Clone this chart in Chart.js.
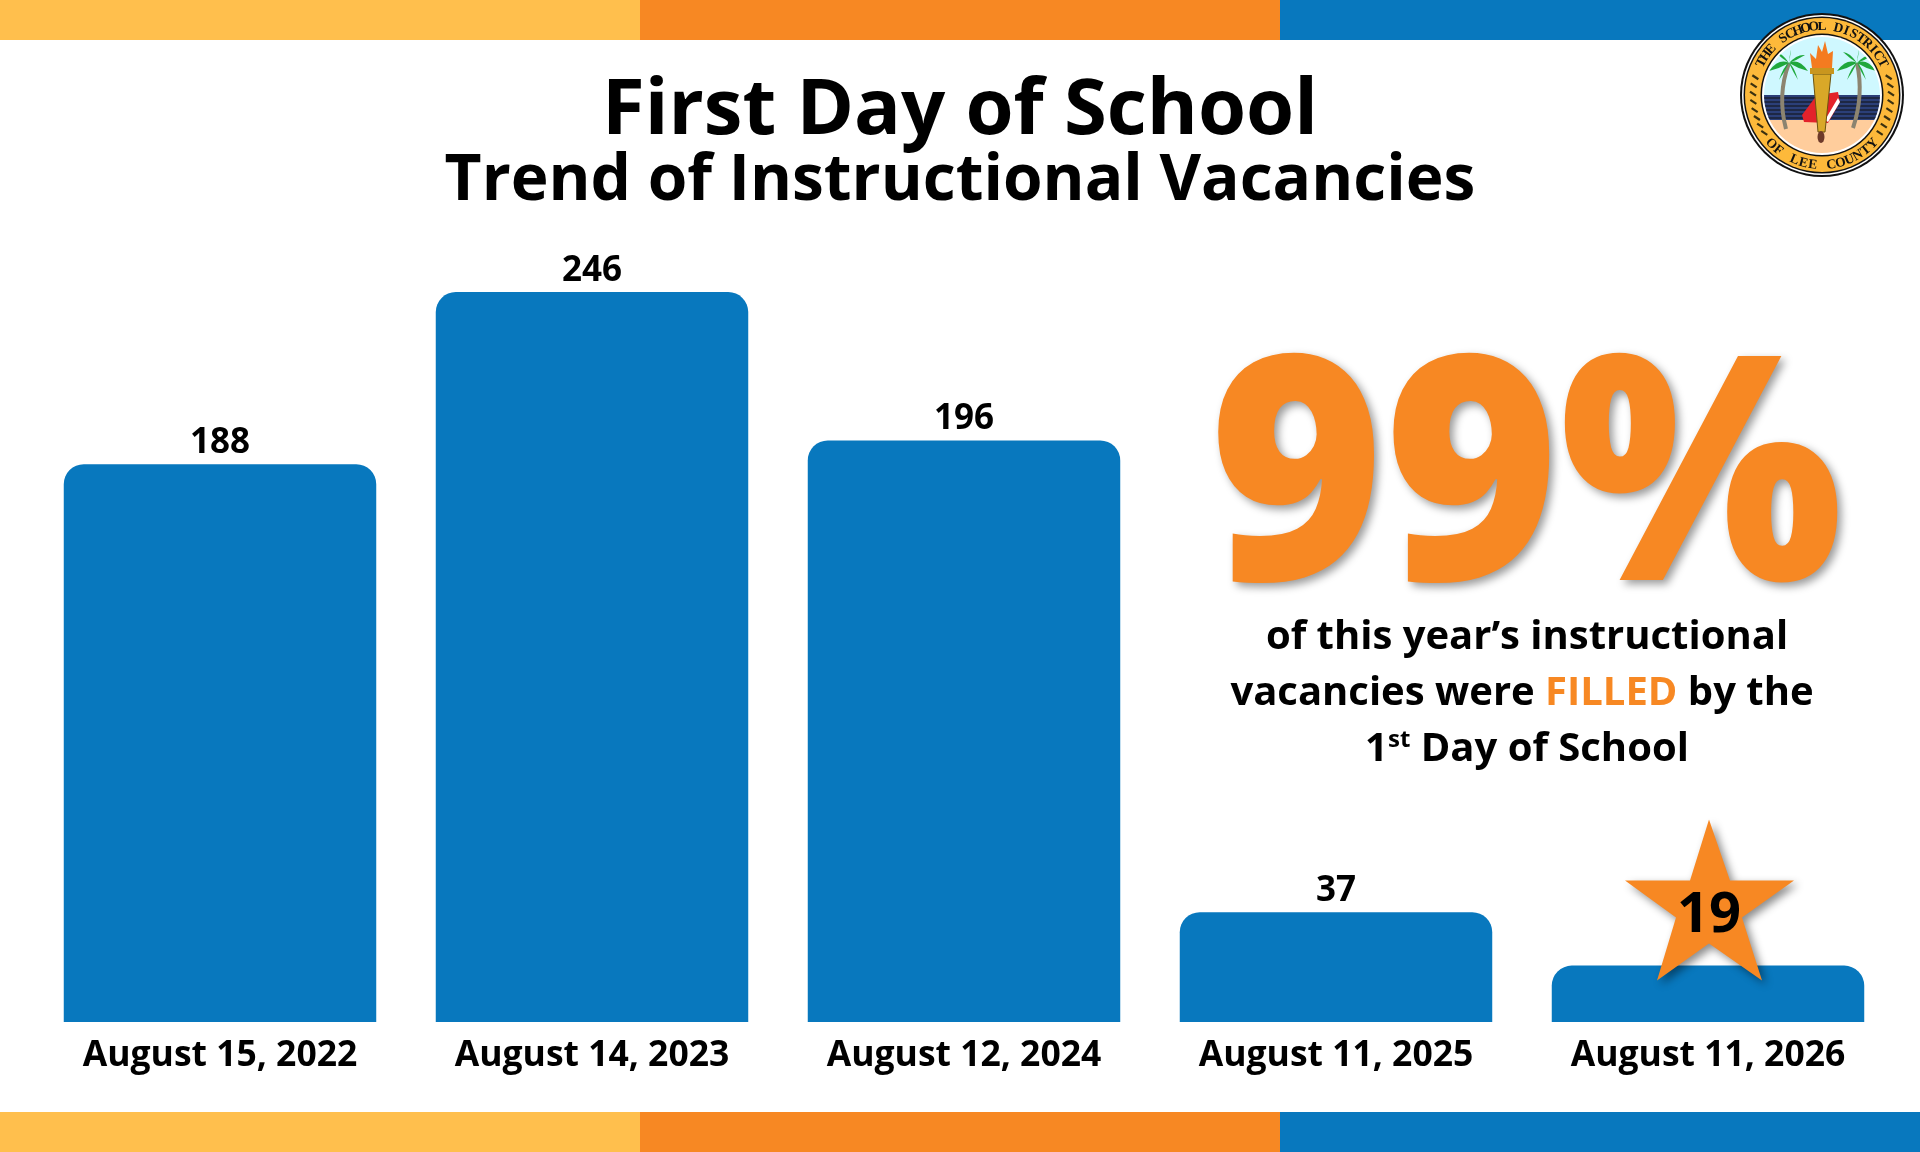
<!DOCTYPE html>
<html>
<head>
<meta charset="utf-8">
<title>First Day of School</title>
<script src="https://cdn.jsdelivr.net/npm/chart.js@4"></script>
<style>
  html, body { margin: 0; padding: 0; background: #fff; }
  #wrap { width: 1920px; height: 1152px; position: relative; }
</style>
</head>
<body>
<div id="wrap"><canvas id="myChart" width="1920" height="1152"></canvas></div>
<script>
const dates = ['August 15, 2022', 'August 14, 2023', 'August 12, 2024', 'August 11, 2025', 'August 11, 2026'];
const vacancies = [188, 246, 196, 37, 19];
const titleText = 'First Day of School';
const subtitleText = 'Trend of Instructional Vacancies';
const bigNumber = '99%';
const calloutLines = [
  [['of this year\u2019s instructional', 'black']],
  [['vacancies were ', 'black'], ['FILLED', 'orange'], [' by the', 'black']],
  [['1', 'black'], ['st', 'sup'], [' Day of School', 'black']]
];

const BLUE = '#0878BE';
const ORANGE = '#F78823';
const YELLOW = '#FFBF4D';
const FONT = '"Open Sans", sans-serif';

function arcText(ctx, text, radius, step, outward) {
  // one letter at a time, top run reads clockwise, bottom run counter-clockwise
  const n = text.length;
  for (let i = 0; i < n; i++) {
    const a = (i - (n - 1) / 2) * step * (outward ? 1 : -1);
    ctx.save();
    ctx.rotate(a);
    ctx.translate(0, outward ? -radius : radius);
    ctx.fillText(text[i], 0, 0);
    ctx.restore();
  }
}

function frond(ctx, x, y, ex, ey, bend) {
  ctx.beginPath();
  ctx.moveTo(x, y);
  ctx.quadraticCurveTo((x + ex) / 2, (y + ey) / 2 - bend, ex, ey);
  ctx.quadraticCurveTo((x + ex) / 2, (y + ey) / 2 + bend * 0.2, x, y);
  ctx.fill();
}

function drawSeal(ctx, cx, cy) {
  ctx.save();
  ctx.translate(cx, cy);

  ctx.fillStyle = '#111';
  ctx.beginPath(); ctx.arc(0, 0, 82, 0, Math.PI * 2); ctx.fill();
  ctx.fillStyle = '#fff';
  ctx.beginPath(); ctx.arc(0, 0, 80, 0, Math.PI * 2); ctx.fill();
  ctx.fillStyle = '#111';
  ctx.beginPath(); ctx.arc(0, 0, 78.5, 0, Math.PI * 2); ctx.fill();
  ctx.fillStyle = '#FDB93A';
  ctx.beginPath(); ctx.arc(0, 0, 77, 0, Math.PI * 2); ctx.fill();
  ctx.fillStyle = '#111';
  ctx.beginPath(); ctx.arc(0, 0, 61.5, 0, Math.PI * 2); ctx.fill();
  ctx.fillStyle = '#fff';
  ctx.beginPath(); ctx.arc(0, 0, 60, 0, Math.PI * 2); ctx.fill();

  // lettering round the band
  ctx.fillStyle = '#111';
  ctx.font = 'bold 13.5px "Liberation Serif", serif';
  ctx.textAlign = 'center';
  ctx.textBaseline = 'alphabetic';
  arcText(ctx, 'THE SCHOOL DISTRICT', 65, 0.12, true);
  arcText(ctx, 'OF LEE COUNTY', 74, 0.134, false);

  // vines on the sides
  ctx.strokeStyle = '#3a3010';
  ctx.lineWidth = 2.2;
  [-1, 1].forEach(side => {
    for (let a = -0.26; a < 0.6; a += 0.12) {
      const x = side * 69 * Math.cos(a), y = 69 * Math.sin(a);
      ctx.beginPath();
      ctx.moveTo(x - 3, y - 2);
      ctx.lineTo(x + 3, y + 2);
      ctx.stroke();
    }
  });

  // picture inside the inner ring
  ctx.save();
  ctx.beginPath(); ctx.arc(0, 0, 58, 0, Math.PI * 2); ctx.clip();
  ctx.fillStyle = '#CFF8FF'; ctx.fillRect(-60, -60, 120, 60);
  ctx.fillStyle = '#2B3F78'; ctx.fillRect(-60, 0, 120, 25);
  ctx.strokeStyle = '#111'; ctx.lineWidth = 1;
  for (let y = 3; y < 25; y += 4) {
    ctx.beginPath(); ctx.moveTo(-60, y); ctx.lineTo(60, y); ctx.stroke();
  }
  ctx.fillStyle = '#FFCD9C'; ctx.fillRect(-60, 25, 120, 35);

  // palm trunks
  ctx.strokeStyle = '#8C8470'; ctx.lineWidth = 4;
  ctx.beginPath(); ctx.moveTo(-36, 34); ctx.quadraticCurveTo(-45, 0, -33, -32); ctx.stroke();
  ctx.beginPath(); ctx.moveTo(31, 33); ctx.quadraticCurveTo(42, 0, 35, -32); ctx.stroke();
  ctx.fillStyle = '#1FA83C';
  [[-33, -32], [35, -32]].forEach(p => {
    frond(ctx, p[0], p[1], p[0] - 20, p[1] + 8, 9);
    frond(ctx, p[0], p[1], p[0] - 14, p[1] - 11, 5);
    frond(ctx, p[0], p[1], p[0] + 2, p[1] - 13, 4);
    frond(ctx, p[0], p[1], p[0] + 16, p[1] - 8, 5);
    frond(ctx, p[0], p[1], p[0] + 19, p[1] + 8, 9);
    frond(ctx, p[0], p[1], p[0] + 9, p[1] + 17, 6);
    frond(ctx, p[0], p[1], p[0] - 10, p[1] + 17, 6);
  });

  // book
  ctx.fillStyle = '#E3222B';
  ctx.beginPath();
  ctx.moveTo(-20, 20); ctx.lineTo(-5, 0); ctx.lineTo(16, -3); ctx.lineTo(18, 7);
  ctx.lineTo(6, 28); ctx.lineTo(-18, 27); ctx.closePath(); ctx.fill();
  ctx.fillStyle = '#fff';
  ctx.beginPath();
  ctx.moveTo(16, 3); ctx.lineTo(18, 7); ctx.lineTo(6, 27); ctx.lineTo(3, 25); ctx.closePath(); ctx.fill();

  // torch
  ctx.fillStyle = '#D9A828';
  ctx.beginPath();
  ctx.moveTo(-9, -21); ctx.lineTo(9, -21); ctx.lineTo(3, 37); ctx.lineTo(-4, 37); ctx.closePath(); ctx.fill();
  ctx.strokeStyle = '#6B5310'; ctx.lineWidth = 1; ctx.stroke();
  ctx.fillStyle = '#C9961E'; ctx.fillRect(-12, -27, 24, 6);
  ctx.fillStyle = '#6E3A2A';
  ctx.beginPath(); ctx.ellipse(-1, 42, 3.5, 6, 0, 0, Math.PI * 2); ctx.fill();
  ctx.fillStyle = '#F47B20';
  ctx.beginPath();
  ctx.moveTo(-10, -27); ctx.lineTo(-12, -42); ctx.lineTo(-6, -36); ctx.lineTo(-4, -50);
  ctx.lineTo(0, -43); ctx.lineTo(3, -54); ctx.lineTo(6, -41); ctx.lineTo(11, -44); ctx.lineTo(10, -27);
  ctx.closePath(); ctx.fill();
  ctx.restore();

  ctx.restore();
}

function drawStar(ctx, cx, topY) {
  // outline, centred on the category
  const pts = [[0, 0], [21, 61], [85, 61], [33, 98], [53, 161], [0, 124], [-52, 161], [-33, 98], [-84, 61], [-19, 61]];
  ctx.save();
  ctx.shadowColor = 'rgba(0,0,0,0.45)';
  ctx.shadowBlur = 9;
  ctx.shadowOffsetX = 4;
  ctx.shadowOffsetY = 4;
  ctx.fillStyle = ORANGE;
  ctx.beginPath();
  pts.forEach((p, i) => i ? ctx.lineTo(cx + p[0], topY + p[1]) : ctx.moveTo(cx + p[0], topY + p[1]));
  ctx.closePath();
  ctx.fill();
  ctx.restore();
}

const slidePlugin = {
  id: 'slide',
  beforeDraw(chart) {
    const ctx = chart.ctx;
    const w = chart.width / 3;
    [YELLOW, ORANGE, BLUE].forEach((c, i) => {
      ctx.fillStyle = c;
      ctx.fillRect(w * i, 0, w, 40);
      ctx.fillRect(w * i, 1112, w, 40);
    });
    ctx.save();
    ctx.fillStyle = '#000';
    ctx.textAlign = 'center';
    ctx.textBaseline = 'alphabetic';
    ctx.font = 'bold 77.8px ' + FONT;
    ctx.fillText(titleText, 960, 134);
    ctx.font = 'bold 64px ' + FONT;
    ctx.fillText(subtitleText, 960, 200);
    ctx.restore();
  },
  afterDatasetsDraw(chart) {
    const ctx = chart.ctx;
    const bars = chart.getDatasetMeta(0).data;

    // value labels above the bars, the last one sits in the star
    ctx.save();
    ctx.textAlign = 'center';
    ctx.textBaseline = 'alphabetic';
    ctx.fillStyle = '#000';
    ctx.font = 'bold 35px ' + FONT;
    bars.forEach((bar, i) => {
      if (i < bars.length - 1) ctx.fillText(vacancies[i], bar.x, bar.y - 11);
    });
    const last = bars[bars.length - 1];
    drawStar(ctx, last.x + 1, last.y - 146);
    ctx.fillStyle = '#000';
    ctx.font = 'bold 56px ' + FONT;
    ctx.fillText(vacancies[vacancies.length - 1], last.x + 1, 932);
    ctx.restore();

    // big 99%, slightly stretched upward like the reference
    ctx.save();
    ctx.translate(1526, 580);
    ctx.scale(1, 1.05);
    ctx.shadowColor = 'rgba(0,0,0,0.4)';
    ctx.shadowBlur = 9;
    ctx.shadowOffsetX = 4;
    ctx.shadowOffsetY = 4;
    ctx.fillStyle = ORANGE;
    ctx.textAlign = 'center';
    ctx.font = '800 299px ' + FONT;
    ctx.fillText(bigNumber, 0, 0);
    ctx.restore();

    // callout text, built from coloured runs
    ctx.save();
    ctx.textAlign = 'left';
    const base = 'bold 40px ' + FONT;
    const sup = 'bold 24px ' + FONT;
    calloutLines.forEach((runs, i) => {
      const y = 649 + i * 56;
      let total = 0;
      runs.forEach(r => { ctx.font = r[1] === 'sup' ? sup : base; total += ctx.measureText(r[0]).width; });
      let x = (i === 1 ? 1522 : 1527) - total / 2;
      runs.forEach(r => {
        ctx.font = r[1] === 'sup' ? sup : base;
        ctx.fillStyle = r[1] === 'orange' ? ORANGE : '#000';
        ctx.fillText(r[0], x, r[1] === 'sup' ? y - 14 : y);
        x += ctx.measureText(r[0]).width;
      });
    });
    ctx.restore();

    drawSeal(ctx, 1822, 95);
  }
};

new Chart(document.getElementById('myChart'), {
  type: 'bar',
  plugins: [slidePlugin],
  data: {
    labels: dates,
    datasets: [{
      data: vacancies,
      backgroundColor: BLUE,
      barPercentage: 0.84,
      categoryPercentage: 1,
      borderRadius: { topLeft: 20, topRight: 20, bottomLeft: 0, bottomRight: 0 },
      borderSkipped: false
    }]
  },
  options: {
    responsive: false,
    animation: false,
    layout: { padding: { left: 34, right: 26, top: 206, bottom: 0 } },
    plugins: {
      legend: { display: false },
      tooltip: { enabled: false }
    },
    scales: {
      x: {
        grid: { display: false, drawTicks: false },
        border: { display: false },
        afterFit(scale) { scale.height = 130; },
        ticks: {
          color: '#000',
          padding: 13,
          maxRotation: 0,
          autoSkip: false,
          font: { family: FONT, size: 35.5, weight: 'bold' }
        }
      },
      y: {
        display: false,
        min: 0,
        max: 275
      }
    }
  }
});
</script>
</body>
</html>
